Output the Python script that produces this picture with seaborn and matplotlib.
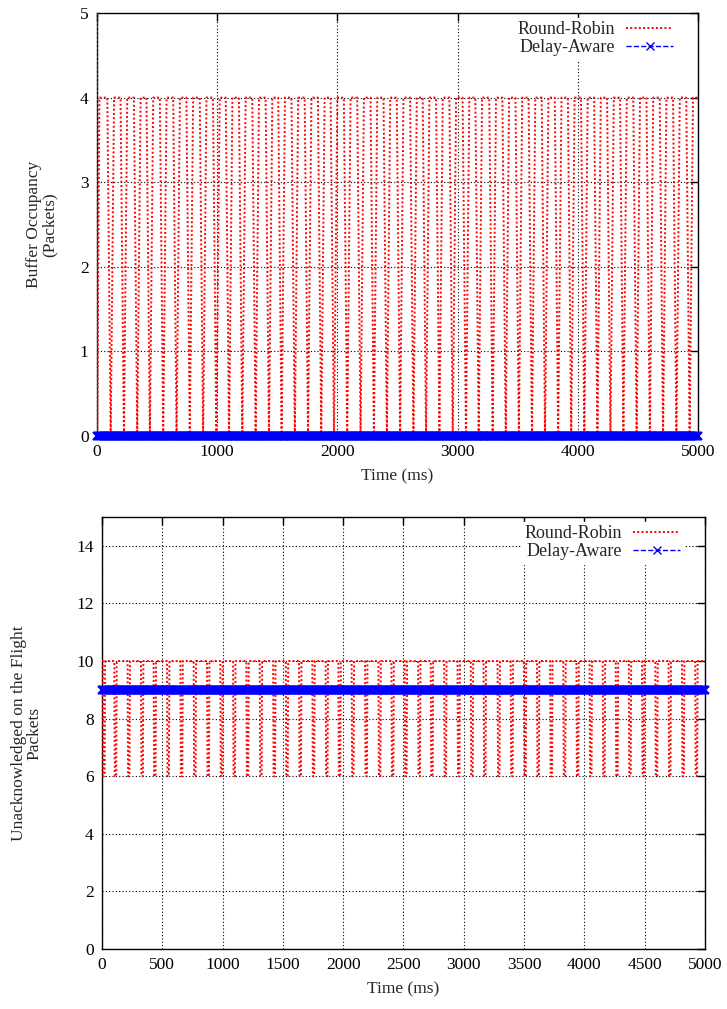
import numpy as np
import pandas as pd
import matplotlib
matplotlib.use("Agg")
import matplotlib.pyplot as plt
import seaborn as sns
from matplotlib.lines import Line2D

# ---------------- data ----------------
series_names = ["Round-Robin", "Delay-Aware"]

# Top chart: times (ms) at which the Round-Robin buffer drains to 0
rr_buffer_dips = [114, 224, 335, 440, 551, 662, 772, 883, 993, 1099, 1209, 1320,
                  1431, 1536, 1646, 1756, 1866, 1972, 2082, 2193, 2304, 2412,
                  2522, 2633, 2738, 2849, 2960, 3070, 3176, 3292, 3401, 3510,
                  3619, 3728, 3837, 3946, 4055, 4164, 4272, 4380, 4490, 4600,
                  4710, 4821, 4931]
rr_buffer_start = [5, 0]        # initial value then drop
rr_buffer_high = 4
rr_buffer_low = 0
da_buffer_level = 0

# Bottom chart: times (ms) at which Round-Robin in-flight packets drop
rr_flight_drops = [8, 104, 214, 325, 430, 541, 652, 762, 873, 983, 1089, 1199,
                   1310, 1421, 1526, 1636, 1746, 1856, 1962, 2072, 2183, 2294,
                   2402, 2512, 2623, 2728, 2839, 2950, 3060, 3166, 3282, 3391,
                   3500, 3609, 3718, 3827, 3936, 4045, 4154, 4262, 4370, 4480,
                   4590, 4700, 4811, 4921]
rr_flight_high = 10
rr_flight_low = 6
da_flight_level = 9

sample_times = np.arange(0, 5001, 8)   # Delay-Aware sample instants (ms)

top_xticks = [0, 1000, 2000, 3000, 4000, 5000]
top_yticks = [0, 1, 2, 3, 4, 5]
bot_xticks = [0, 500, 1000, 1500, 2000, 2500, 3000, 3500, 4000, 4500, 5000]
bot_yticks = [0, 2, 4, 6, 8, 10, 12, 14]

# ---------------- build series ----------------
t_top = [0, 2, 20]
v_top = [rr_buffer_start[0], rr_buffer_start[1], rr_buffer_high]
for d in rr_buffer_dips:
    t_top += [d - 28, d, d + 28]
    v_top += [rr_buffer_high, rr_buffer_low, rr_buffer_high]
t_top.append(5000)
v_top.append(rr_buffer_high)
df_rr_top = pd.DataFrame({"t": t_top, "v": v_top})
df_da_top = pd.DataFrame({"t": sample_times, "v": [da_buffer_level] * len(sample_times)})

t_bot = [0]
v_bot = [rr_flight_high]
for d in rr_flight_drops:
    t_bot += [d - 2, d + 2, d + 14, d + 18]
    v_bot += [rr_flight_high, rr_flight_low, rr_flight_low, rr_flight_high]
t_bot.append(5000)
v_bot.append(rr_flight_high)
df_rr_bot = pd.DataFrame({"t": t_bot, "v": v_bot})
df_da_bot = pd.DataFrame({"t": sample_times, "v": [da_flight_level] * len(sample_times)})

# ---------------- style ----------------
sns.set_style("white")
plt.rcParams["font.family"] = ["Liberation Serif", "DejaVu Serif"]
plt.rcParams["font.size"] = 12.5

fig = plt.figure(figsize=(7.27, 10.09), dpi=100)
ax1 = fig.add_axes([0.1334, 0.5679, 0.8266, 0.4192])
ax2 = fig.add_axes([0.1403, 0.0595, 0.8294, 0.4281])


def draw(ax, df_rr, df_da, xticks, yticks, ylim, ylabel, leg_x, ypad):
    sns.lineplot(data=df_rr, x="t", y="v", ax=ax, color="red", linestyle=(0, (1, 1.2)),
                 linewidth=1.4, estimator=None, sort=False, zorder=3)
    sns.lineplot(data=df_da, x="t", y="v", ax=ax, color="blue", linestyle="--",
                 linewidth=1.0, marker="x", markersize=6, markeredgewidth=1.6,
                 markeredgecolor="blue", estimator=None, sort=False, zorder=4,
                 clip_on=False)
    ax.set_xlim(0, 5000)
    ax.set_ylim(*ylim)
    ax.set_xticks(xticks)
    ax.set_yticks(yticks)
    ax.set_xticklabels([str(x) for x in xticks])
    ax.set_yticklabels([str(y) for y in yticks])
    ax.grid(True, color="black", linestyle=(0, (1, 2)), linewidth=0.8)
    ax.set_axisbelow(True)
    ax.tick_params(direction="in", length=6, width=1, top=True, right=True,
                   labelsize=12.5, colors="black", pad=6)
    for s in ax.spines.values():
        s.set_color("black")
        s.set_linewidth(1.0)
    ax.set_xlabel("Time (ms)", fontsize=12.5, labelpad=6)
    ax.set_ylabel(ylabel, fontsize=12.5, labelpad=ypad, linespacing=1.0)
    handles = [
        Line2D([0], [0], color="red", linestyle=(0, (1, 1.2)), linewidth=1.4),
        Line2D([0], [0], color="blue", linestyle="--", linewidth=1.0, marker="x",
               markersize=6, markevery=[1]),
    ]
    for h in handles[1:]:
        h.set_data([0, 0.5, 1], [0, 0, 0])
    leg = ax.legend(handles, series_names, loc="upper right", markerfirst=False,
                    frameon=True, fancybox=False, edgecolor="white",
                    facecolor="white", framealpha=1, fontsize=13,
                    handlelength=2.6, handletextpad=0.6, borderpad=0.2,
                    labelspacing=0.05, bbox_to_anchor=(leg_x, 1.01))
    for t in leg.get_texts():
        t.set_ha("right")
    leg.set_zorder(5)


draw(ax1, df_rr_top, df_da_top, top_xticks, top_yticks, (0, 5),
     "Buffer Occupancy\n(Packets)", 0.98, 16)
draw(ax2, df_rr_bot, df_da_bot, bot_xticks, bot_yticks, (0, 15),
     "Unacknowledged on the Flight\nPackets", 0.98, 24)

fig.savefig("out.png", dpi=100)
